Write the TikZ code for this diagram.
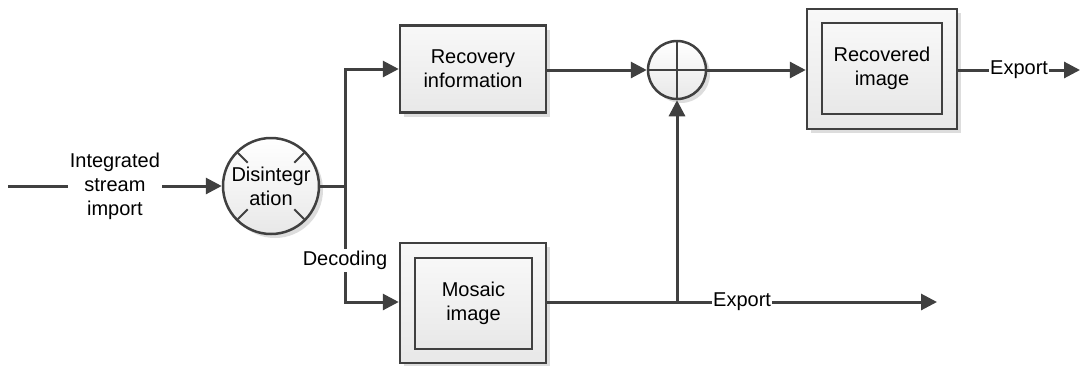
\documentclass[tikz,border=0pt]{standalone}
\usepackage{fontspec}
\setmainfont{Liberation Sans}
\usetikzlibrary{arrows.meta,shadows,calc}
\definecolor{ln}{HTML}{404040}
\definecolor{bxtop}{HTML}{F8F8F8}
\definecolor{bxbot}{HTML}{E8E8E8}
\begin{document}
\begin{tikzpicture}[x=1pt,y=-1pt,
  txt/.style={font=\fontsize{20}{24}\selectfont, align=center, text=black},
  conn/.style={draw=ln, line width=3pt},
  arr/.style={conn, -{Triangle[length=16pt,width=16pt]}},
  boxshade/.style={draw=ln, line width=2.5pt, top color=bxtop, bottom color=bxbot},
  shad/.style={drop shadow={shadow xshift=4pt, shadow yshift=-4pt, opacity=0.22, fill=black!60}},
  procbox/.style={boxshade, shad, rectangle, inner sep=0pt, txt},
  outerbox/.style={boxshade, shad, rectangle, inner sep=0pt},
  innerbox/.style={boxshade, rectangle, inner sep=0pt, txt},
  lbl/.style={txt, fill=white, inner sep=2pt}]
\useasboundingbox[fill=white] (0,0) rectangle (1080,365);

% nodes
\node[draw=ln, line width=2.5pt, circle, minimum size=96pt, inner sep=0pt, shad,
      top color=white, bottom color=bxbot, txt] (dis) at (271,186) {Disintegr\\ation};
\foreach \a in {45,135,225,315}
  \draw[ln, line width=1.8pt] ($(dis.center)+(\a:33pt)$) -- ($(dis.center)+(\a:47pt)$);

\node[procbox, minimum width=146pt, minimum height=87pt] (rec) at (473,69) {Recovery\\information};

\node[draw=ln, line width=2.5pt, circle, minimum size=58pt, inner sep=0pt, shad,
      top color=white, bottom color=bxbot] (sum) at (677,70) {};
\draw[ln, line width=2.5pt] (sum.north) -- (sum.south);
\draw[ln, line width=2.5pt] (sum.west) -- (sum.east);

\node[outerbox, minimum width=150pt, minimum height=120pt] (recout) at (882,69) {};
\node[innerbox, minimum width=120pt, minimum height=91pt] (recin) at (882,68.5) {Recovered\\image};

\node[outerbox, minimum width=146pt, minimum height=120pt] (mosout) at (473,303) {};
\node[innerbox, minimum width=117pt, minimum height=91pt] (mosin) at (473.5,303.5) {Mosaic\\image};

% coordinates
\coordinate (in) at (8,186);
\coordinate (split) at (345,186);
\coordinate (join) at (677,302);
\coordinate (outB) at (937,302);
\coordinate (outT) at (1080,70);

% connectors
\draw[arr] (in) -- node[lbl] {Integrated\\stream\\import} (dis.west);
\draw[conn] (dis.east) -- (split);
\draw[arr] (split) |- (rec.west);
\draw[arr] (split) |- node[lbl, pos=0.32] {Decoding} (mosout.west |- join);
\draw[arr] (rec.east |- sum.west) -- (sum.west);
\draw[arr] (sum.east) -- (recout.west |- sum.east);
\draw[arr] (recout.east |- sum.east) -- node[lbl, inner sep=1pt] {Export} (outT);
\draw[arr] (mosout.east |- join) -- node[lbl, inner sep=1pt] {Export} (outB);
\draw[arr] (join) -- (sum.south);
\end{tikzpicture}
\end{document}
